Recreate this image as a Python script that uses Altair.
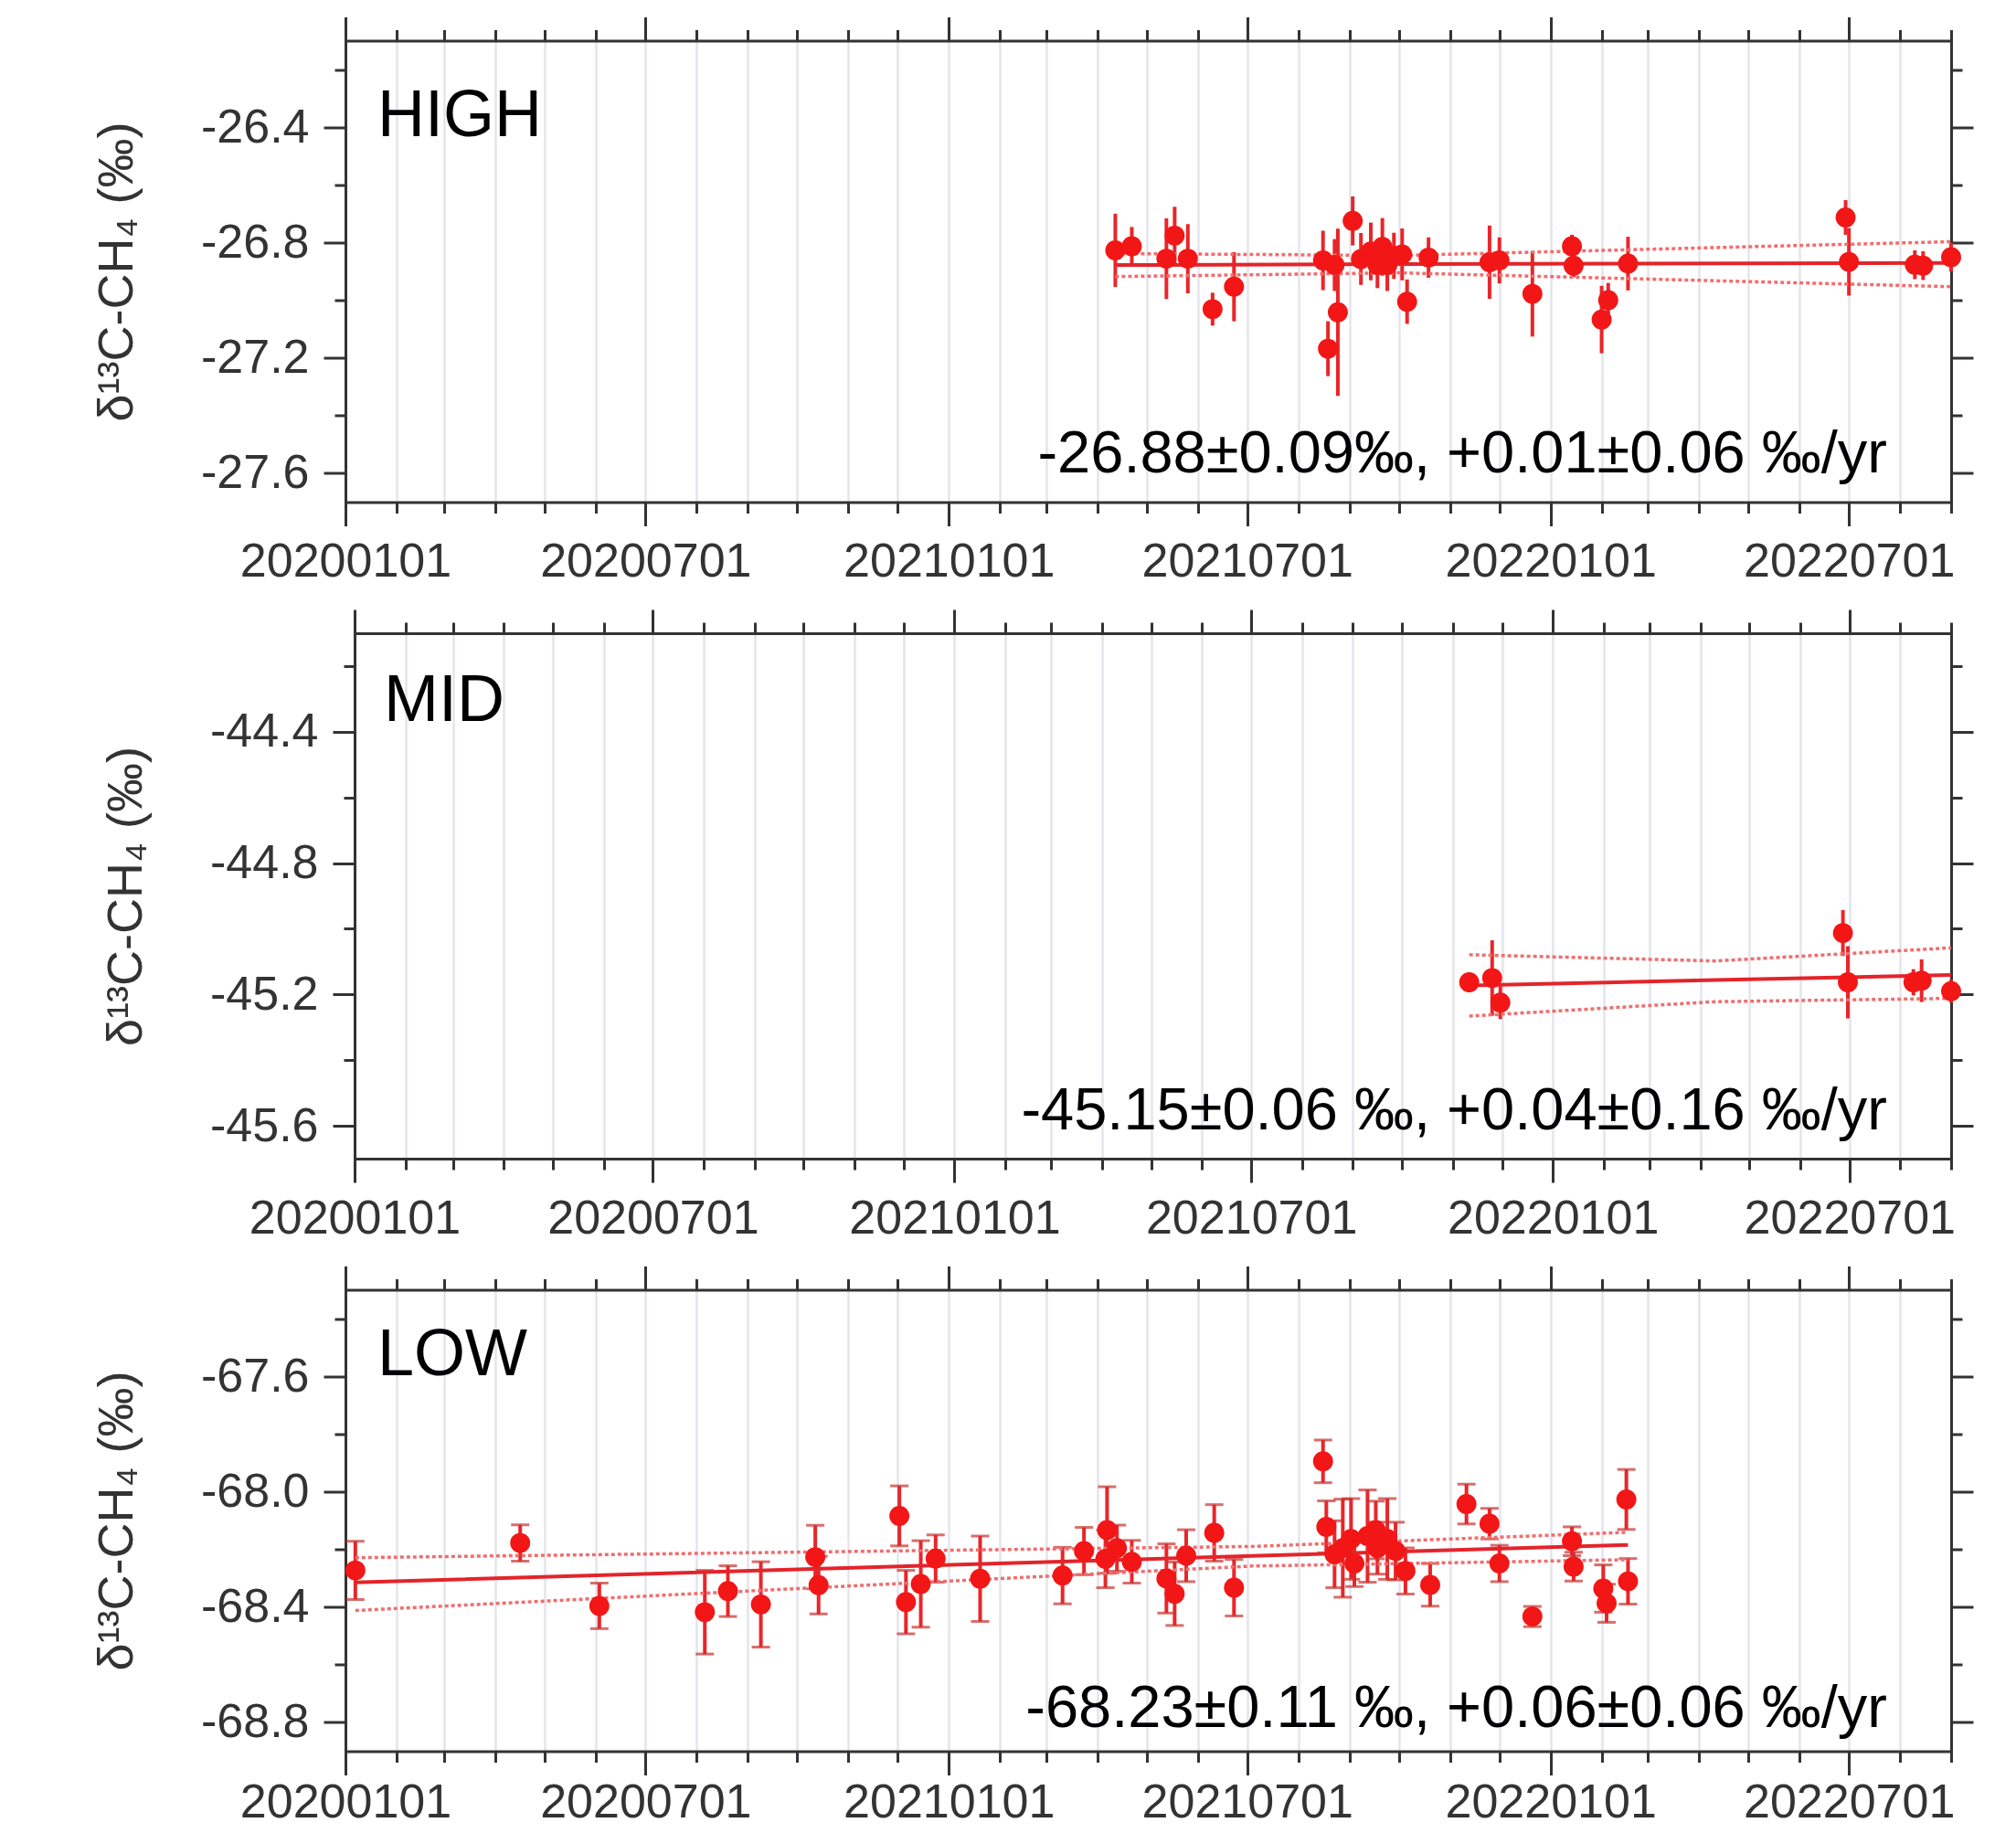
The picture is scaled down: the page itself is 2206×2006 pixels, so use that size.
import altair as alt
import pandas as pd

FONT = "Liberation Sans"
RED = "#f21616"
ERR = "#e8262a"
CAP = "#c8302e"
FIT = "#e3242b"
BAND = "#ee6f6f"
GRID = "#e4e4ee"
INK = "#333333"

YTITLE = "δ¹³C-CH₄ (‰)"

MONTHS = [(y, m) for y in (2020, 2021, 2022) for m in range(1, 13) if (y, m) <= (2022, 9)]
MAJOR = [(2020, 1), (2020, 7), (2021, 1), (2021, 7), (2022, 1), (2022, 7)]
X_START = (2020, 1)
X_END = (2022, 9)

# ---------------- HIGH ----------------
high_dates = ["2021-04-12", "2021-04-22", "2021-05-13", "2021-05-18", "2021-05-26", "2021-06-10", "2021-06-23",
              "2021-08-16", "2021-08-19", "2021-08-23", "2021-08-25", "2021-09-03", "2021-09-08", "2021-09-14",
              "2021-09-18", "2021-09-21", "2021-09-24", "2021-09-28", "2021-10-03", "2021-10-06", "2021-10-19",
              "2021-11-25", "2021-12-01", "2021-12-21", "2022-01-14", "2022-01-15", "2022-02-01", "2022-02-05",
              "2022-02-17", "2022-06-29", "2022-07-01", "2022-08-10", "2022-08-15", "2022-09-01"]
high_vals = [-26.827, -26.813, -26.856, -26.776, -26.856, -27.031, -26.953,
             -26.862, -27.168, -26.878, -27.042, -26.725, -26.857, -26.831,
             -26.878, -26.815, -26.878, -26.846, -26.841, -27.005, -26.852,
             -26.868, -26.862, -26.978, -26.813, -26.880, -27.067, -27.000,
             -26.873, -26.713, -26.867, -26.877, -26.880, -26.851]
high_errs = [0.127, 0.067, 0.140, 0.100, 0.120, 0.057, 0.120,
             0.103, 0.095, 0.090, 0.290, 0.085, 0.090, 0.100,
             0.080, 0.100, 0.090, 0.080, 0.090, 0.077, 0.070,
             0.127, 0.080, 0.148, 0.040, 0.040, 0.117, 0.060,
             0.093, 0.060, 0.117, 0.050, 0.050, 0.050]
high_fit_dates = ["2021-04-12", "2021-10-01", "2022-09-01"]
high_fit_c = [-26.878, -26.875, -26.871]
high_fit_u = [-26.838, -26.845, -26.797]
high_fit_l = [-26.918, -26.905, -26.953]
high_domain = [-27.7, -26.1]
high_major = [-26.4, -26.8, -27.2, -27.6]
high_minor = [-26.2, -26.6, -27.0, -27.4]
high_label = "HIGH"
high_note = "-26.88±0.09‰, +0.01±0.06 ‰/yr"

# ---------------- MID ----------------
mid_dates = ["2021-11-11", "2021-11-25", "2021-11-30", "2022-06-27", "2022-06-30", "2022-08-09", "2022-08-14", "2022-09-01"]
mid_vals = [-45.163, -45.150, -45.225, -45.013, -45.163, -45.163, -45.158, -45.190]
mid_errs = [0.030, 0.115, 0.050, 0.070, 0.110, 0.040, 0.065, 0.035]
mid_fit_dates = ["2021-11-11", "2022-04-10", "2022-09-01"]
mid_fit_c = [-45.173, -45.156, -45.141]
mid_fit_u = [-45.079, -45.098, -45.058]
mid_fit_l = [-45.266, -45.222, -45.212]
mid_domain = [-45.7, -44.1]
mid_major = [-44.4, -44.8, -45.2, -45.6]
mid_minor = [-44.2, -44.6, -45.0, -45.4]
mid_label = "MID"
mid_note = "-45.15±0.06 ‰, +0.04±0.16 ‰/yr"

# ---------------- LOW ----------------
low_dates = ["2020-01-07", "2020-04-16", "2020-06-03", "2020-08-06", "2020-08-20", "2020-09-09", "2020-10-12",
             "2020-10-14", "2020-12-02", "2020-12-06", "2020-12-15", "2020-12-24", "2021-01-20",
             "2021-03-11", "2021-03-24", "2021-04-07", "2021-04-06", "2021-04-13", "2021-04-22", "2021-05-13",
             "2021-05-18", "2021-05-25", "2021-06-11", "2021-06-23",
             "2021-08-16", "2021-08-18", "2021-08-23", "2021-08-28", "2021-09-02", "2021-09-04", "2021-09-12",
             "2021-09-17", "2021-09-18", "2021-09-24", "2021-09-29", "2021-10-05",
             "2021-10-20", "2021-11-11", "2021-11-25", "2021-12-01", "2021-12-21", "2022-01-14", "2022-01-15",
             "2022-02-02", "2022-02-04", "2022-02-16", "2022-02-17"]
low_vals = [-68.273, -68.178, -68.396, -68.418, -68.345, -68.391, -68.227,
            -68.324, -68.084, -68.383, -68.320, -68.232, -68.302,
            -68.291, -68.206, -68.133, -68.233, -68.196, -68.243, -68.301,
            -68.354, -68.222, -68.143, -68.333,
            -67.895, -68.122, -68.217, -68.196, -68.164, -68.249, -68.154,
            -68.133, -68.196, -68.164, -68.206, -68.275,
            -68.323, -68.043, -68.111, -68.249, -68.433, -68.172, -68.260,
            -68.336, -68.387, -68.027, -68.311]
low_errs = [0.101, 0.063, 0.079, 0.145, 0.088, 0.148, 0.110,
            0.100, 0.104, 0.110, 0.150, 0.082, 0.148,
            0.098, 0.082, 0.150, 0.100, 0.080, 0.074, 0.120,
            0.110, 0.090, 0.098, 0.098,
            0.074, 0.090, 0.116, 0.170, 0.140, 0.080, 0.160,
            0.100, 0.090, 0.140, 0.100, 0.080,
            0.074, 0.069, 0.053, 0.063, 0.035, 0.050, 0.050,
            0.082, 0.066, 0.104, 0.079]
low_fit_dates = ["2020-01-07", "2021-07-04", "2022-02-17"]
low_fit_c = [-68.315, -68.223, -68.185]
low_fit_u = [-68.229, -68.190, -68.141]
low_fit_l = [-68.412, -68.258, -68.236]
low_domain = [-68.9, -67.3]
low_major = [-67.6, -68.0, -68.4, -68.8]
low_minor = [-67.4, -67.8, -68.2, -68.6]
low_label = "LOW"
low_note = "-68.23±0.11 ‰, +0.06±0.06 ‰/yr"


def dt(s):
    return s + "T00:00:00"


def make_df(dates, vals, errs):
    return pd.DataFrame({
        "date": [dt(d) for d in dates],
        "v": vals,
        "lo": [round(v - e, 4) for v, e in zip(vals, errs)],
        "hi": [round(v + e, 4) for v, e in zip(vals, errs)],
    })


def fit_df(dates, c, u, l):
    return pd.DataFrame({"date": [dt(d) for d in dates], "c": c, "u": u, "l": l})


def dtv(ym):
    return alt.DateTime(year=ym[0], month=ym[1], date=1)


def x_axis(orient, major, labels=False, grid=False, lab_pad=14):
    kw = dict(orient=orient, values=[dtv(m) for m in (MAJOR if major else MONTHS)],
              tickSize=26 if major else 12, tickColor=INK, tickWidth=3,
              domain=major, labels=labels, grid=grid, title=None)
    if major:
        kw.update(domainColor=INK, domainWidth=3, domainCap="square")
    if labels:
        kw.update(format="%Y%m%d", labelFont=FONT, labelFontSize=52, labelColor=INK,
                  labelPadding=lab_pad, labelOverlap=False, labelFlush=False, labelLimit=600)
    if grid:
        kw.update(gridColor=GRID, gridWidth=2.5)
    return alt.Axis(**kw)


def y_axis(orient, values, major, labels=False, title=None, offset=0):
    kw = dict(orient=orient, values=values, tickSize=24 if major else 12, tickColor=INK,
              tickWidth=3, domain=major, labels=labels, grid=False)
    if offset:
        kw["offset"] = offset
    if major:
        kw.update(domainColor=INK, domainWidth=3, domainCap="square")
    if labels:
        kw.update(labelExpr="replace(format(datum.value, '.1f'), '\u2212', '-')",
                  labelFont=FONT, labelFontSize=52, labelColor=INK, labelPadding=16, labelLimit=400)
    if title:
        kw.update(title=title, titleFont=FONT, titleFontSize=54, titleColor=INK,
                  titleFontWeight="normal", titlePadding=64, titleLimit=800)
    else:
        kw["title"] = None
    return alt.Axis(**kw)


def panel(df, fit, ydom, ymaj, ymin, w, h, x0, label, lx, ly, note, nx, ny, caps, lab_pad=14):
    xs = alt.Scale(domain=[dtv(X_START), dtv(X_END)], range=[x0, w], nice=False)
    ys = alt.Scale(domain=ydom, nice=False, zero=False)
    off = -x0 if x0 else 0
    base = alt.Chart(df)
    layers = [base.mark_rule(color=ERR, strokeWidth=4).encode(
        x=alt.X("date:T", scale=xs, axis=x_axis("bottom", False, grid=True)),
        y=alt.Y("lo:Q", scale=ys, axis=y_axis("left", ymin, False, offset=off)),
        y2="hi:Q")]
    if caps:
        for f in ("lo", "hi"):
            layers.append(base.mark_tick(orient="horizontal", size=20, thickness=3, color=CAP).encode(
                x=alt.X("date:T", scale=xs, axis=None),
                y=alt.Y(f + ":Q", scale=ys, axis=None)))
    fb = alt.Chart(fit)
    layers.append(fb.mark_line(color=FIT, strokeWidth=4).encode(
        x=alt.X("date:T", scale=xs, axis=x_axis("top", True)),
        y=alt.Y("c:Q", scale=ys, axis=y_axis("right", ymaj, True))))
    layers.append(fb.mark_line(color=BAND, strokeWidth=3.5, strokeDash=[4, 3]).encode(
        x=alt.X("date:T", scale=xs, axis=x_axis("top", False)),
        y=alt.Y("u:Q", scale=ys, axis=y_axis("right", ymin, False))))
    layers.append(fb.mark_line(color=BAND, strokeWidth=3.5, strokeDash=[4, 3]).encode(
        x=alt.X("date:T", scale=xs, axis=None),
        y=alt.Y("l:Q", scale=ys, axis=None)))
    layers.append(base.mark_circle(size=480, color=RED, opacity=1).encode(
        x=alt.X("date:T", scale=xs, axis=x_axis("bottom", True, labels=True, lab_pad=lab_pad)),
        y=alt.Y("v:Q", scale=ys, axis=y_axis("left", ymaj, True, labels=True, title=YTITLE, offset=off))))
    layers.append(alt.Chart(pd.DataFrame({"t": [label]})).mark_text(
        align="left", baseline="alphabetic", font=FONT, fontSize=72, color="black").encode(
        text="t:N", x=alt.value(lx), y=alt.value(ly)))
    layers.append(alt.Chart(pd.DataFrame({"t": [note]})).mark_text(
        align="right", baseline="alphabetic", font=FONT, fontSize=65, color="black").encode(
        text="t:N", x=alt.value(nx), y=alt.value(ny)))
    return alt.layer(*layers).resolve_axis(x="independent", y="independent").properties(width=w, height=h)


high = panel(make_df(high_dates, high_vals, high_errs),
             fit_df(high_fit_dates, high_fit_c, high_fit_u, high_fit_l),
             high_domain, high_major, high_minor, 1757, 505, 0,
             high_label, 35, 104, high_note, 1687, 472, False)
mid = panel(make_df(mid_dates, mid_vals, mid_errs),
            fit_df(mid_fit_dates, mid_fit_c, mid_fit_u, mid_fit_l),
            mid_domain, mid_major, mid_minor, 1757, 575, 10,
            mid_label, 42, 96, mid_note, 1687, 543, False)
low = panel(make_df(low_dates, low_vals, low_errs),
            fit_df(low_fit_dates, low_fit_c, low_fit_u, low_fit_l),
            low_domain, low_major, low_minor, 1757, 505, 0,
            low_label, 35, 93, low_note, 1687, 478, True, lab_pad=5)

chart = alt.vconcat(high, mid, low, spacing=24.5).properties(
    padding={"left": 101, "top": 16.5, "right": 5, "bottom": 0},
    background="white",
).configure_view(strokeWidth=0)

chart.save("out.html", embed_options={"renderer": "svg", "actions": False})
